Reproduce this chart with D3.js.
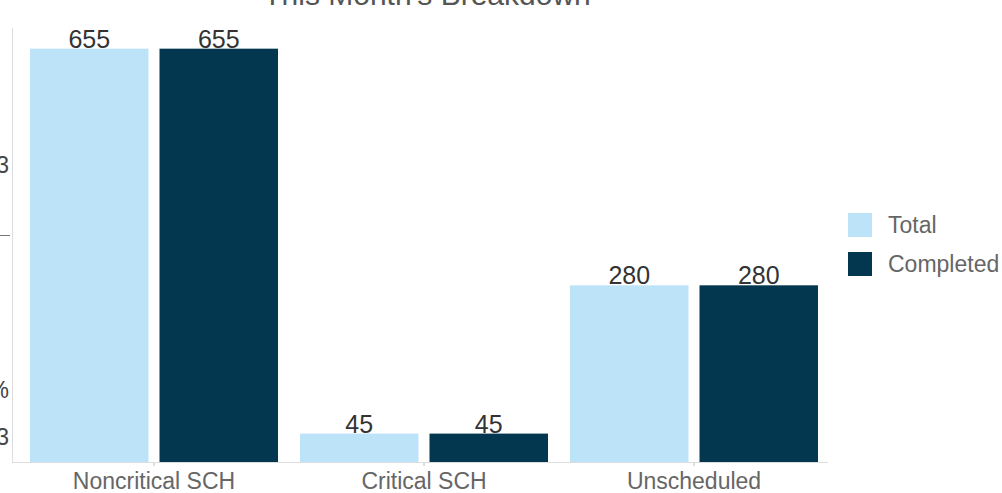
<!DOCTYPE html>
<html><head><meta charset="utf-8">
<script src="https://cdn.jsdelivr.net/npm/d3@7"></script>
<style>body{margin:0;background:#fff;}svg{display:block;font-family:"Liberation Sans",Arial,sans-serif;}</style>
</head><body>
<svg id="c" width="1002" height="493"></svg>
<script>
const title = "This Month's Breakdown";
const categories = ["Noncritical SCH", "Critical SCH", "Unscheduled"];
const seriesNames = ["Total", "Completed"];
const totalValues = [655, 45, 280];
const completedValues = [655, 45, 280];
const colors = ["#bde3f8", "#02374f"];
const leftFragments = [{t:"3",y:173},{t:"%",y:398},{t:"3",y:445}];

const svg = d3.select("#c");
const plotTop = 28, plotBottom = 462, plotLeft = 12, plotRight = 828;
const x0 = d3.scaleBand().domain(categories).range([19, 829]).paddingInner(0).paddingOuter(0);
const x1 = d3.scaleBand().domain(seriesNames).range([11, x0.bandwidth()-11]).paddingInner(0.085);
const y = d3.scaleLinear().domain([0, 655*1.05]).range([plotBottom, plotTop]);

// left cut fragments (from a neighbouring element cropped at the edge)
svg.selectAll("text.frag").data(leftFragments).enter().append("text")
  .attr("class","frag")
  .attr("x", 9).attr("y", d=>d.y).attr("text-anchor","end")
  .attr("font-size", 23).attr("fill", "#444").text(d=>d.t);
svg.append("line").attr("x1",-2).attr("x2",10).attr("y1",235.5).attr("y2",235.5).attr("stroke","#777").attr("stroke-width",1);

// title
svg.append("text").attr("x", 427).attr("y", 5).attr("text-anchor","middle")
  .attr("font-size", 30).attr("fill","#555").text(title);

// y axis line
svg.append("line").attr("x1", plotLeft+0.5).attr("x2", plotLeft+0.5).attr("y1", plotTop).attr("y2", plotBottom)
  .attr("stroke","#ddd");

const data = categories.map((c,i)=>({cat:c, vals:[{s:"Total",v:totalValues[i]},{s:"Completed",v:completedValues[i]}]}));
const g = svg.selectAll("g.cat").data(data).enter().append("g").attr("class","cat").attr("transform", d=>`translate(${x0(d.cat)},0)`);
g.selectAll("rect").data(d=>d.vals).enter().append("rect")
  .attr("x", d=>x1(d.s)).attr("width", x1.bandwidth())
  .attr("y", d=>y(d.v)).attr("height", d=>plotBottom - y(d.v))
  .attr("fill", (d,i)=>colors[i]);
g.selectAll("text").data(d=>d.vals).enter().append("text")
  .attr("x", d=>x1(d.s)+x1.bandwidth()/2).attr("y", d=>y(d.v)-1)
  .attr("text-anchor","middle").attr("font-size", 25).attr("fill","#333").text(d=>d.v);

// x axis
const xAxis = d3.axisBottom(x0).tickSize(4).tickSizeOuter(0);
const ax = svg.append("g").attr("transform", `translate(0,${plotBottom})`).call(xAxis);
ax.select(".domain").remove();
ax.append("line").attr("x1", plotLeft).attr("x2", plotRight).attr("y1",0.5).attr("y2",0.5).attr("stroke","#ddd");
ax.selectAll(".tick line").attr("stroke","#bbb");
ax.selectAll(".tick text").attr("font-size",23).attr("fill","#666").attr("dy",null).attr("y",27)
  .attr("font-family","Liberation Sans, Arial, sans-serif");

// legend
const lg = svg.selectAll("g.leg").data(seriesNames).enter().append("g").attr("class","leg")
  .attr("transform",(d,i)=>`translate(848,${213+i*39})`);
lg.append("rect").attr("width",24).attr("height",24).attr("fill",(d,i)=>colors[i]);
lg.append("text").attr("x",40).attr("y",20).attr("font-size",23).attr("fill","#666").text(d=>d);
</script>
</body></html>
